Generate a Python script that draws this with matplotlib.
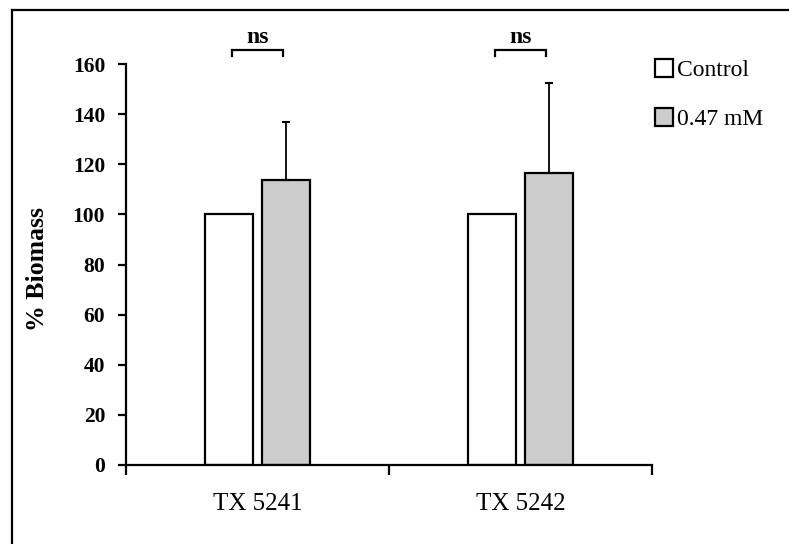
import matplotlib
matplotlib.use("Agg")
import matplotlib.pyplot as plt
from matplotlib.lines import Line2D
import numpy as np

categories = ["TX 5241", "TX 5242"]
series_names = ["Control", "0.47 mM"]
control_vals = [100, 100]
treat_vals = [113.6, 116.4]
treat_err = [23.2, 36.0]
sig_labels = ["ns", "ns"]
yticks = [0, 20, 40, 60, 80, 100, 120, 140, 160]

plt.rcParams['font.family'] = ['Liberation Serif', 'DejaVu Serif']

fig = plt.figure(figsize=(7.89, 5.44), dpi=100)
ax = fig.add_axes([126/789, 1-465/544, (652-126)/789, (465-64)/544])

centers = np.arange(len(categories)) + 0.5
w = 0.183
off = 0.108
ax.bar(centers - off, control_vals, width=w, color='white', edgecolor='black',
       linewidth=1.6, label=series_names[0], zorder=2)
ax.bar(centers + off, treat_vals, width=w, color='#cccccc', edgecolor='black',
       linewidth=1.6, label=series_names[1], zorder=2)
ax.errorbar(centers + off, treat_vals, yerr=[np.zeros(len(treat_err)), treat_err],
            fmt='none', ecolor='black', elinewidth=1.3, capsize=3, capthick=1.5, zorder=3)

ax.set_xlim(0, len(categories))
ax.set_ylim(0, 160)
ax.set_yticks(yticks)
ax.set_yticklabels([str(v) for v in yticks], fontweight='bold', fontsize=15.5)
ax.set_xticks(np.arange(len(categories) + 1))
ax.set_xticklabels([])
ax.set_xticks(centers, minor=True)
ax.set_xticklabels(categories, minor=True, fontsize=18)
ax.tick_params(axis='x', which='minor', length=0, pad=20)
ax.tick_params(axis='x', which='major', direction='out', length=7, width=1.6)
ax.tick_params(axis='y', direction='out', length=6, width=1.6, pad=9)
for s in ['top', 'right']:
    ax.spines[s].set_visible(False)
for s in ['left', 'bottom']:
    ax.spines[s].set_linewidth(1.6)
ax.set_ylabel("% Biomass", fontweight='bold', fontsize=18.5)

# significance brackets
for c, lab in zip(centers, sig_labels):
    x0, x1 = c - off + 0.01, c + off - 0.01
    yb = 165.5
    ax.plot([x0, x0, x1, x1], [yb - 2.2, yb, yb, yb - 2.2], color='black',
            linewidth=1.6, clip_on=False, solid_joinstyle='miter')
    ax.text(c, yb + 1.0, lab, ha='center', va='bottom', fontweight='bold',
            fontsize=17, clip_on=False)

leg = ax.legend(loc='upper left', bbox_to_anchor=(655/789, 1-59/544),
                bbox_transform=fig.transFigure, frameon=False, fontsize=17,
                handlelength=0.78, handleheight=0.78, handletextpad=0.15,
                labelspacing=1.15, borderpad=0, borderaxespad=0)

# figure border
fig.add_artist(Line2D([12/789, 12/789], [0, 1-10/544], transform=fig.transFigure,
                      color='black', linewidth=1.6))
fig.add_artist(Line2D([12/789, 1], [1-10/544, 1-10/544], transform=fig.transFigure,
                      color='black', linewidth=1.6))

ax.yaxis.set_label_coords((49 - 126) / (652 - 126), 0.49)

fig.savefig("out.png", dpi=100)
